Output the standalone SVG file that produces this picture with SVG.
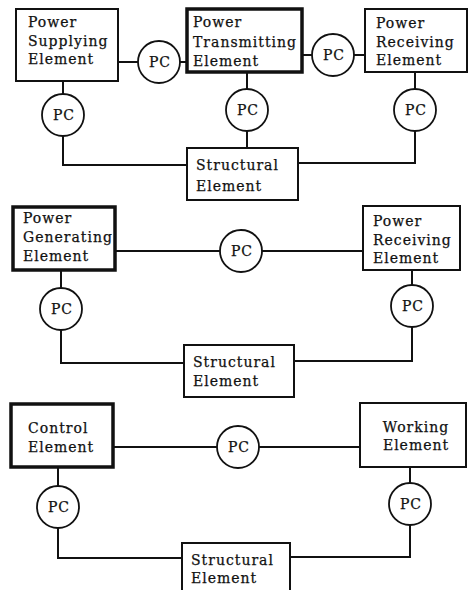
<svg xmlns="http://www.w3.org/2000/svg" width="470" height="590" viewBox="0 0 470 590">
<style>
text{font-family:"DejaVu Serif","Liberation Serif",serif;font-size:14px;letter-spacing:1px;fill:#111;stroke:#111;stroke-width:0.25}
.pc{text-anchor:middle}
.box{fill:#fff;stroke:#111;stroke-width:2}
.thick{fill:#fff;stroke:#111;stroke-width:3.5}
.circ{fill:#fff;stroke:#111;stroke-width:1.8}
.ln{fill:none;stroke:#111;stroke-width:2}
</style>
<rect width="470" height="590" fill="#fff"/>
<g id="connectors">
<path class="ln" d="M118 62H138M180 62H187M302 55H312M354 55H365"/>
<path class="ln" d="M63 81V94M63 136V165H187"/>
<path class="ln" d="M247 72V89M247 131V148"/>
<path class="ln" d="M415 72V89M415 131V163H298"/>
<path class="ln" d="M115 251H220M262 251H363"/>
<path class="ln" d="M61 270V288M61 330V363H184"/>
<path class="ln" d="M412 270V285M412 327V361H294"/>
<path class="ln" d="M113 447H217M259 447H360"/>
<path class="ln" d="M58 467V486M58 528V558H182"/>
<path class="ln" d="M410 467V483M410 525V557H290"/>
</g>
<g id="power-supplying"><rect class="box" x="16" y="9" width="102" height="72"/><text x="28" y="27">Power</text><text x="28" y="46">Supplying</text><text x="28" y="64">Element</text></g>
<g id="pc1"><circle class="circ" cx="159" cy="62" r="21"/><text class="pc" x="160" y="67">PC</text></g>
<g id="power-transmitting"><rect class="thick" x="187" y="9" width="115" height="63"/><text x="193" y="27">Power</text><text x="193" y="47">Transmitting</text><text x="193" y="66">Element</text></g>
<g id="pc2"><circle class="circ" cx="333" cy="55" r="21"/><text class="pc" x="334" y="60">PC</text></g>
<g id="power-receiving-1"><rect class="box" x="365" y="9" width="102" height="63"/><text x="376" y="28">Power</text><text x="376" y="47">Receiving</text><text x="376" y="65">Element</text></g>
<g id="pc3"><circle class="circ" cx="63" cy="115" r="21"/><text class="pc" x="64" y="120">PC</text></g>
<g id="pc4"><circle class="circ" cx="247" cy="110" r="21"/><text class="pc" x="248" y="115">PC</text></g>
<g id="pc5"><circle class="circ" cx="415" cy="110" r="21"/><text class="pc" x="416" y="115">PC</text></g>
<g id="structural-1"><rect class="box" x="187" y="148" width="111" height="52"/><text x="196" y="170">Structural</text><text x="196" y="191">Element</text></g>
<g id="power-generating"><rect class="thick" x="13" y="207" width="102" height="63"/><text x="23" y="223">Power</text><text x="23" y="242">Generating</text><text x="23" y="261">Element</text></g>
<g id="pc6"><circle class="circ" cx="241" cy="251" r="21"/><text class="pc" x="242" y="256">PC</text></g>
<g id="power-receiving-2"><rect class="box" x="363" y="206" width="97" height="64"/><text x="373" y="226">Power</text><text x="373" y="245">Receiving</text><text x="373" y="263">Element</text></g>
<g id="pc7"><circle class="circ" cx="61" cy="309" r="21"/><text class="pc" x="62" y="314">PC</text></g>
<g id="pc8"><circle class="circ" cx="412" cy="306" r="21"/><text class="pc" x="413" y="311">PC</text></g>
<g id="structural-2"><rect class="box" x="184" y="345" width="110" height="52"/><text x="193" y="367">Structural</text><text x="193" y="386">Element</text></g>
<g id="control"><rect class="thick" x="11" y="404" width="102" height="63"/><text x="28" y="433">Control</text><text x="28" y="452">Element</text></g>
<g id="pc9"><circle class="circ" cx="238" cy="447" r="21"/><text class="pc" x="239" y="452">PC</text></g>
<g id="working"><rect class="box" x="360" y="403" width="106" height="64"/><text class="pc" x="416" y="432">Working</text><text class="pc" x="416" y="450">Element</text></g>
<g id="pc10"><circle class="circ" cx="58" cy="507" r="21"/><text class="pc" x="59" y="512">PC</text></g>
<g id="pc11"><circle class="circ" cx="410" cy="504" r="21"/><text class="pc" x="411" y="509">PC</text></g>
<g id="structural-3"><rect class="box" x="182" y="543" width="108" height="52"/><text x="191" y="565">Structural</text><text x="191" y="583">Element</text></g>
</svg>
